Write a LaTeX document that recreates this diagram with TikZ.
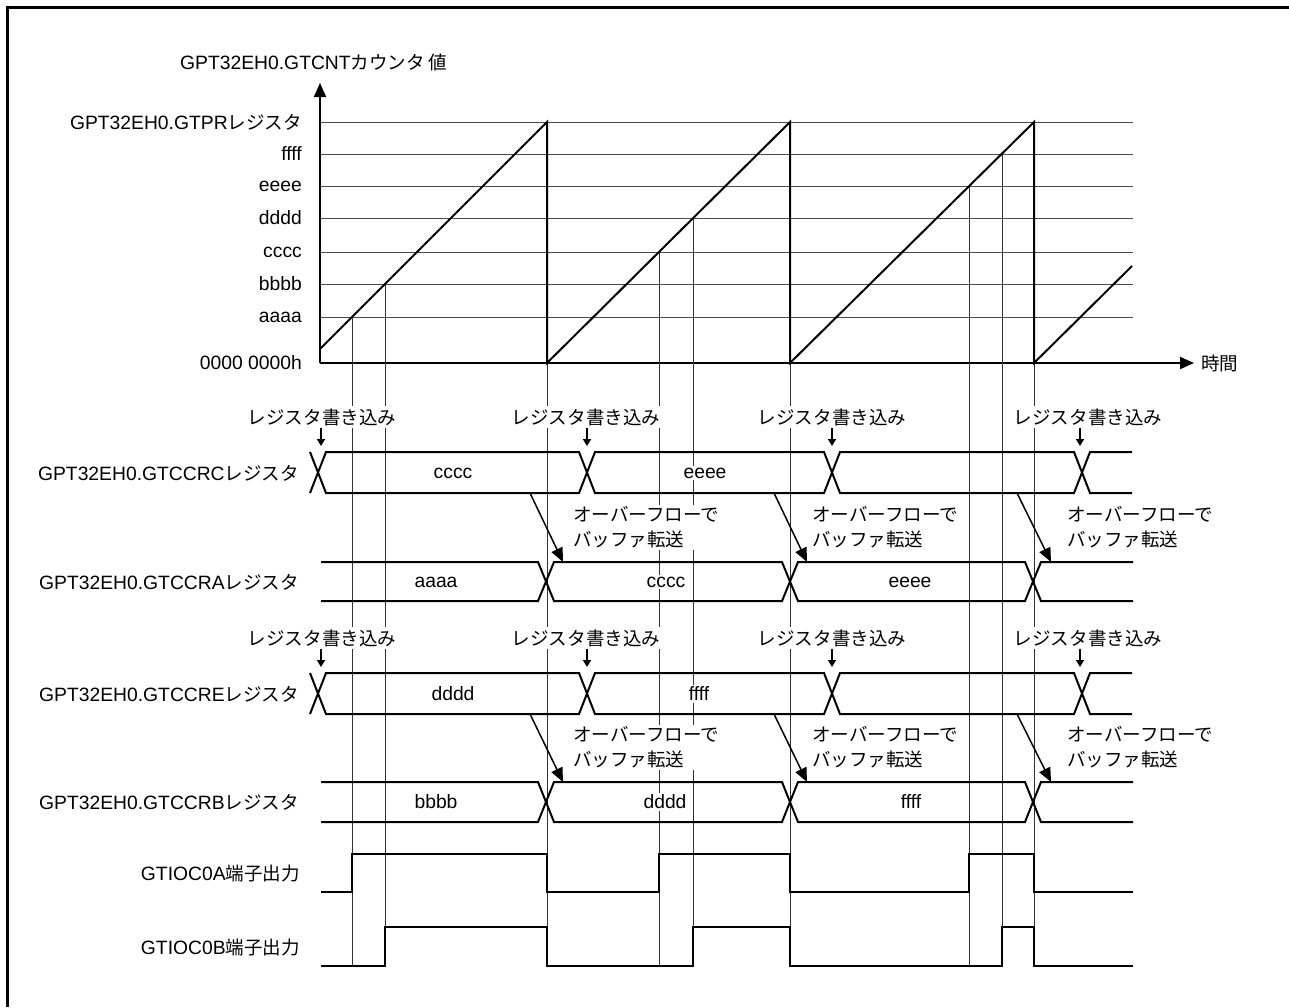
\documentclass[tikz,border=0pt]{standalone}
\usepackage{fontspec}
\setmainfont{Liberation Sans}
\newfontfamily\jp{Noto Sans CJK JP}[Scale=0.96]
\usetikzlibrary{arrows.meta}

\begin{document}
\begin{tikzpicture}[x=1pt, y=-1pt,
    txt/.style={font=\fontsize{19.3}{25}\selectfont, inner sep=2pt},
    lbl/.style={txt, anchor=east},
    val/.style={txt, fill=white},
    note/.style={txt, fill=white, align=left, anchor=west},
    grid/.style={line width=1pt, black!70},
    guide/.style={line width=1pt, black!80},
    sig/.style={line width=2pt},
    axis/.style={line width=2pt, -{Triangle[length=14pt,width=12pt]}},
    wr/.style={line width=2pt, -{Triangle[length=7pt,width=8pt]}},
    xfer/.style={line width=1.5pt, -{Triangle[length=14pt,width=12pt]}}
]
\useasboundingbox (0,0) rectangle (1289,1007);

% frame
\draw[line width=3pt] (7,1007) -- (7,7) -- (1289,7);

% count levels
\foreach \y in {122,154,186,218,252,284,317}
    \draw[grid] (320,\y) -- (1133,\y);

\node[lbl] (lvpr) at (304,122) {GPT32EH0.GTPR\jp レジスタ};
\node[lbl] (lvf) at (304,154) {ffff};
\node[lbl] (lve) at (304,186) {eeee};
\node[lbl] (lvd) at (304,218) {dddd};
\node[lbl] (lvc) at (304,252) {cccc};
\node[lbl] (lvb) at (304,284) {bbbb};
\node[lbl] (lva) at (304,317) {aaaa};
\node[lbl] (lv0) at (304,363) {0000 0000h};

% axes
\coordinate (origin) at (320,363);
\coordinate (ytip) at (320,83);
\coordinate (xtip) at (1194,363);
\draw[axis] (origin) -- (ytip);
\draw[axis] (origin) -- (xtip);
\node[txt, anchor=west] (ylab) at (178,62) {GPT32EH0.GTCNT\jp カウンタ\hspace{4pt}値};
\node[txt, anchor=west] (tlab) at (1199,363) {\jp 時間};

% compare match guides
\draw[guide] (352,317) -- (352,966);
\draw[guide] (385,284) -- (385,966);
\draw[guide] (547,363) -- (547,966);
\draw[guide] (659,252) -- (659,966);
\draw[guide] (693,218) -- (693,966);
\draw[guide] (790,363) -- (790,966);
\draw[guide] (969,186) -- (969,966);
\draw[guide] (1002,154) -- (1002,966);
\draw[guide] (1034,363) -- (1034,966);

% counter
\draw[sig] (320,349) -- (547,122) -- (547,363) -- (790,122) -- (790,363)
    -- (1034,122) -- (1034,363) -- (1132,266);

% GTCCRC
\draw[sig] (310,452) -- (326,493) -- (579,493) -- (595,452) -- (824,452) -- (840,493)
    -- (1074,493) -- (1090,452) -- (1132,452);
\draw[sig] (310,493) -- (326,452) -- (579,452) -- (595,493) -- (824,493) -- (840,452)
    -- (1074,452) -- (1090,493) -- (1132,493);
% GTCCRA
\draw[sig] (321,562) -- (538,562) -- (554,601) -- (782,601) -- (798,562) -- (1025,562)
    -- (1041,601) -- (1133,601);
\draw[sig] (321,601) -- (538,601) -- (554,562) -- (782,562) -- (798,601) -- (1025,601)
    -- (1041,562) -- (1133,562);
% GTCCRE
\draw[sig] (310,673) -- (326,714) -- (579,714) -- (595,673) -- (824,673) -- (840,714)
    -- (1074,714) -- (1090,673) -- (1132,673);
\draw[sig] (310,714) -- (326,673) -- (579,673) -- (595,714) -- (824,714) -- (840,673)
    -- (1074,673) -- (1090,714) -- (1132,714);
% GTCCRB
\draw[sig] (321,782) -- (538,782) -- (554,822) -- (782,822) -- (798,782) -- (1025,782)
    -- (1041,822) -- (1133,822);
\draw[sig] (321,822) -- (538,822) -- (554,782) -- (782,782) -- (798,822) -- (1025,822)
    -- (1041,782) -- (1133,782);

% pin outputs
\draw[sig] (321,892) -- (352,892) -- (352,854) -- (547,854) -- (547,892) -- (659,892)
    -- (659,854) -- (790,854) -- (790,892) -- (969,892) -- (969,854) -- (1034,854)
    -- (1034,892) -- (1133,892);
\draw[sig] (321,966) -- (385,966) -- (385,927) -- (547,927) -- (547,966) -- (693,966)
    -- (693,927) -- (790,927) -- (790,966) -- (1002,966) -- (1002,927) -- (1034,927)
    -- (1034,966) -- (1133,966);

% row labels
\node[lbl] (rc) at (301,473) {GPT32EH0.GTCCRC\jp レジスタ};
\node[lbl] (ra) at (301,582) {GPT32EH0.GTCCRA\jp レジスタ};
\node[lbl] (re) at (301,694) {GPT32EH0.GTCCRE\jp レジスタ};
\node[lbl] (rb) at (301,802) {GPT32EH0.GTCCRB\jp レジスタ};
\node[lbl] (oa) at (302,873) {GTIOC0A\jp 端子出力};
\node[lbl] (ob) at (302,947) {GTIOC0B\jp 端子出力};

% register values
\node[val] (vc1) at (453,473) {cccc};
\node[val] (vc2) at (705,473) {eeee};
\node[val] (va1) at (436,582) {aaaa};
\node[val] (va2) at (666,582) {cccc};
\node[val] (va3) at (910,582) {eeee};
\node[val] (ve1) at (453,694) {dddd};
\node[val] (ve2) at (699,694) {ffff};
\node[val] (vb1) at (436,802) {bbbb};
\node[val] (vb2) at (665,802) {dddd};
\node[val] (vb3) at (911,802) {ffff};

% register writes
\node[val] (wc1) at (322,417) {\jp レジスタ書き込み};
\node[val] (wc2) at (586,417) {\jp レジスタ書き込み};
\node[val] (wc3) at (832,417) {\jp レジスタ書き込み};
\node[val] (wc4) at (1088,417) {\jp レジスタ書き込み};
\node[val] (we1) at (322,638) {\jp レジスタ書き込み};
\node[val] (we2) at (586,638) {\jp レジスタ書き込み};
\node[val] (we3) at (832,638) {\jp レジスタ書き込み};
\node[val] (we4) at (1088,638) {\jp レジスタ書き込み};

\coordinate (kc1) at (321,446);
\coordinate (kc2) at (587,446);
\coordinate (kc3) at (832,446);
\coordinate (kc4) at (1080,446);
\coordinate (ke1) at (321,667);
\coordinate (ke2) at (587,667);
\coordinate (ke3) at (832,667);
\coordinate (ke4) at (1080,667);
\draw[wr] (wc1.south -| kc1) -- (kc1);
\draw[wr] (wc2.south -| kc2) -- (kc2);
\draw[wr] (wc3.south -| kc3) -- (kc3);
\draw[wr] (wc4.south -| kc4) -- (kc4);
\draw[wr] (we1.south -| ke1) -- (ke1);
\draw[wr] (we2.south -| ke2) -- (ke2);
\draw[wr] (we3.south -| ke3) -- (ke3);
\draw[wr] (we4.south -| ke4) -- (ke4);

% buffer transfer
\node[note] (na2) at (571,527.5) {{\jp オーバーフローで}\\{\jp バッファ転送}};
\node[note] (na3) at (810,527.5) {{\jp オーバーフローで}\\{\jp バッファ転送}};
\node[note] (na4) at (1065,527.5) {{\jp オーバーフローで}\\{\jp バッファ転送}};
\node[note] (nb2) at (571,747.5) {{\jp オーバーフローで}\\{\jp バッファ転送}};
\node[note] (nb3) at (810,747.5) {{\jp オーバーフローで}\\{\jp バッファ転送}};
\node[note] (nb4) at (1065,747.5) {{\jp オーバーフローで}\\{\jp バッファ転送}};

\coordinate (ta2s) at (530,493);
\coordinate (ta2e) at (563,562);
\coordinate (ta3s) at (774,493);
\coordinate (ta3e) at (807,562);
\coordinate (ta4s) at (1017,493);
\coordinate (ta4e) at (1051,562);
\coordinate (tb2s) at (530,714);
\coordinate (tb2e) at (563,782);
\coordinate (tb3s) at (774,714);
\coordinate (tb3e) at (807,782);
\coordinate (tb4s) at (1017,714);
\coordinate (tb4e) at (1051,782);
\draw[xfer] (ta2s) -- (ta2e);
\draw[xfer] (ta3s) -- (ta3e);
\draw[xfer] (ta4s) -- (ta4e);
\draw[xfer] (tb2s) -- (tb2e);
\draw[xfer] (tb3s) -- (tb3e);
\draw[xfer] (tb4s) -- (tb4e);

\end{tikzpicture}
\end{document}
